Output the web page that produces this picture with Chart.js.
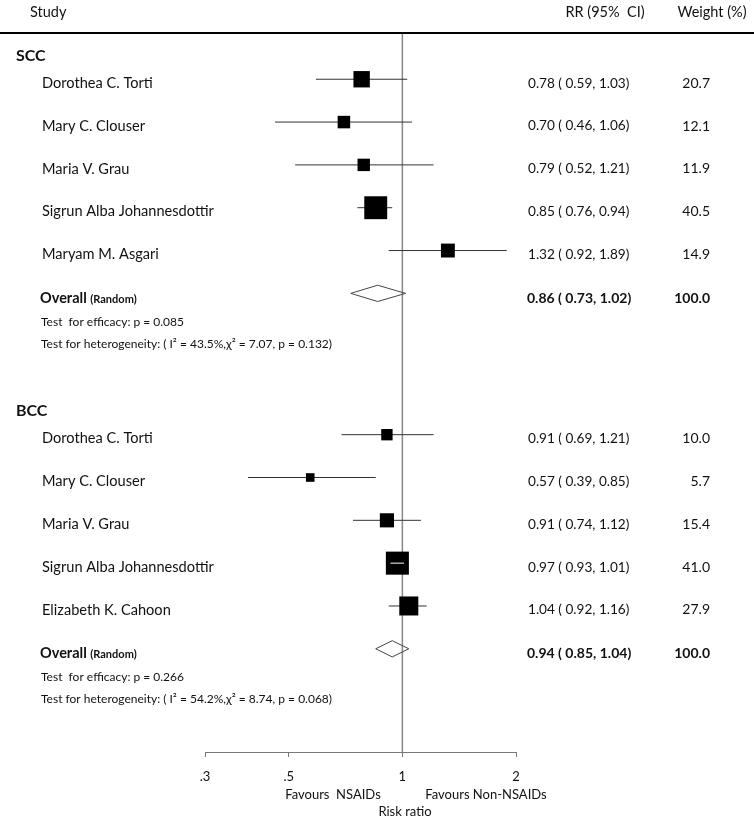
<!DOCTYPE html>
<html>
<head>
<meta charset="utf-8">
<title>Forest plot</title>
<script src="https://cdn.jsdelivr.net/npm/chart.js@4.4.1/dist/chart.umd.min.js"></script>
<style>
  html, body { margin: 0; padding: 0; background: #fff; }
  #wrap { width: 754px; height: 822px; position: relative; }
</style>
</head>
<body>
<div id="wrap"><canvas id="forest"></canvas></div>
<script>
// SCC studies
var sccStudies = ['Dorothea C. Torti', 'Mary C. Clouser', 'Maria V. Grau', 'Sigrun Alba Johannesdottir', 'Maryam M. Asgari'];
var sccRR = [0.78, 0.70, 0.79, 0.85, 1.32];
var sccLow = [0.59, 0.46, 0.52, 0.76, 0.92];
var sccHigh = [1.03, 1.06, 1.21, 0.94, 1.89];
var sccWeight = [20.7, 12.1, 11.9, 40.5, 14.9];
var sccOverall = [0.86, 0.73, 1.02]; // rr, low, high
var sccEfficacy = 'Test  for efficacy: p = 0.085';
var sccHetero = 'Test for heterogeneity: ( I\u00B2 = 43.5%,\u03C7\u00B2 = 7.07, p = 0.132)';

// BCC studies
var bccStudies = ['Dorothea C. Torti', 'Mary C. Clouser', 'Maria V. Grau', 'Sigrun Alba Johannesdottir', 'Elizabeth K. Cahoon'];
var bccRR = [0.91, 0.57, 0.91, 0.97, 1.04];
var bccLow = [0.69, 0.39, 0.74, 0.93, 0.92];
var bccHigh = [1.21, 0.85, 1.12, 1.01, 1.16];
var bccWeight = [10.0, 5.7, 15.4, 41.0, 27.9];
var bccOverall = [0.94, 0.85, 1.04];
var bccEfficacy = 'Test  for efficacy: p = 0.266';
var bccHetero = 'Test for heterogeneity: ( I\u00B2 = 54.2%,\u03C7\u00B2 = 8.74, p = 0.068)';

// x axis
var xTicks = [0.3, 0.5, 1, 2];
var xTickLabels = ['.3', '.5', '1', '2'];

var FONT = 'Lato, "Open Sans", sans-serif';
var INK = '#111';

// each group: studies on rows start..start+4, overall on start+5
var groups = [
  { name: 'SCC', start: 0, studies: sccStudies, rr: sccRR, lo: sccLow, hi: sccHigh, w: sccWeight, overall: sccOverall, eff: sccEfficacy, het: sccHetero },
  { name: 'BCC', start: 8.3, studies: bccStudies, rr: bccRR, lo: bccLow, hi: bccHigh, w: bccWeight, overall: bccOverall, eff: bccEfficacy, het: bccHetero }
];

function boxSide(w) {
  return 3.6 * Math.sqrt(w);
}

var datasets = [];
var boxPoints = [];
groups.forEach(function(g) {
  g.studies.forEach(function(s, i) {
    var row = g.start + i;
    datasets.push({
      data: [{ x: g.lo[i], y: row }, { x: g.hi[i], y: row }],
      showLine: true, borderColor: '#333', borderWidth: 1, pointRadius: 0, order: 3
    });
    boxPoints.push({ x: g.rr[i], y: row, w: g.w[i], lo: g.lo[i], hi: g.hi[i] });
  });
  var o = g.overall, r = g.start + 5, h = 0.19;
  datasets.push({
    data: [{ x: o[1], y: r }, { x: o[0], y: r - h }, { x: o[2], y: r }, { x: o[0], y: r + h }, { x: o[1], y: r }],
    showLine: true, borderColor: '#444', borderWidth: 1, pointRadius: 0, fill: false, order: 2
  });
});

datasets.push({
  data: boxPoints,
  pointStyle: 'rect',
  backgroundColor: '#000',
  borderWidth: 0,
  pointRadius: function(ctx) {
    var p = ctx.raw;
    return p ? boxSide(p.w) / (2 * Math.SQRT1_2) : 0;
  },
  order: 1
});

function drawText(ctx, txt, x, y, font, align) {
  ctx.font = font;
  ctx.textAlign = align || 'left';
  ctx.fillText(txt, x, y);
}

var forestDecor = {
  id: 'forestDecor',
  beforeDatasetsDraw: function(chart) {
    var ctx = chart.ctx, a = chart.chartArea, xs = chart.scales.x;
    ctx.save();
    // line of no effect
    var x1 = xs.getPixelForValue(1);
    ctx.strokeStyle = '#888';
    ctx.lineWidth = 1.5;
    ctx.beginPath();
    ctx.moveTo(x1, a.top);
    ctx.lineTo(x1, a.bottom);
    ctx.stroke();
    // header rule
    ctx.strokeStyle = '#000';
    ctx.lineWidth = 2;
    ctx.beginPath();
    ctx.moveTo(0, a.top);
    ctx.lineTo(chart.width, a.top);
    ctx.stroke();
    ctx.restore();
  },
  afterDatasetsDraw: function(chart) {
    // CI that fits inside its box is drawn in white over the box
    var ctx = chart.ctx, xs = chart.scales.x, ys = chart.scales.y;
    ctx.save();
    ctx.strokeStyle = '#fff';
    ctx.lineWidth = 1;
    boxPoints.forEach(function(p) {
      var cx = xs.getPixelForValue(p.x), half = boxSide(p.w) / 2;
      var l = xs.getPixelForValue(p.lo), r = xs.getPixelForValue(p.hi);
      if (l > cx - half && r < cx + half) {
        var y = ys.getPixelForValue(p.y);
        ctx.beginPath();
        ctx.moveTo(l, y);
        ctx.lineTo(r, y);
        ctx.stroke();
      }
    });
    ctx.restore();
  },
  afterDraw: function(chart) {
    var ctx = chart.ctx, xs = chart.scales.x, ys = chart.scales.y;
    ctx.save();
    ctx.fillStyle = INK;
    ctx.textBaseline = 'middle';

    // column headers
    drawText(ctx, 'Study', 30, 12, '14.5px ' + FONT);
    drawText(ctx, 'RR (95%  CI)', 605, 12, '14.5px ' + FONT, 'center');
    drawText(ctx, 'Weight (%)', 712, 12, '14.5px ' + FONT, 'center');

    groups.forEach(function(g) {
      drawText(ctx, g.name, 16, ys.getPixelForValue(g.start - 0.55), 'bold 16px ' + FONT);
      g.studies.forEach(function(s, i) {
        var y = ys.getPixelForValue(g.start + i) + 4;
        drawText(ctx, s, 42, y, '14.6px ' + FONT);
        drawText(ctx, g.rr[i].toFixed(2) + ' ( ' + g.lo[i].toFixed(2) + ', ' + g.hi[i].toFixed(2) + ')', 528, y, '13.6px ' + FONT);
        drawText(ctx, g.w[i].toFixed(1), 710, y, '14px ' + FONT, 'right');
      });
      var yo = ys.getPixelForValue(g.start + 5) + 5;
      drawText(ctx, 'Overall', 40, yo, 'bold 14.5px ' + FONT);
      var ow = ctx.measureText('Overall ').width;
      drawText(ctx, '(Random)', 40 + ow, yo + 1, 'bold 11px ' + FONT);
      var o = g.overall;
      drawText(ctx, o[0].toFixed(2) + ' ( ' + o[1].toFixed(2) + ', ' + o[2].toFixed(2) + ')', 527, yo, 'bold 14px ' + FONT);
      drawText(ctx, '100.0', 710, yo, 'bold 14px ' + FONT, 'right');
      drawText(ctx, g.eff, 41, ys.getPixelForValue(g.start + 5.66), '12px ' + FONT);
      drawText(ctx, g.het, 41, ys.getPixelForValue(g.start + 6.18), '12px ' + FONT);
    });

    // axis captions
    drawText(ctx, 'Favours  NSAIDs', 333, 795, '13px ' + FONT, 'center');
    drawText(ctx, 'Favours Non-NSAIDs', 486, 795, '13px ' + FONT, 'center');
    drawText(ctx, 'Risk ratio', 405, 812, '13px ' + FONT, 'center');
    ctx.restore();
  }
};

new Chart(document.getElementById('forest'), {
  type: 'scatter',
  data: { datasets: datasets },
  options: {
    responsive: true,
    maintainAspectRatio: false,
    animation: false,
    events: [],
    layout: { padding: { left: 205, right: 238, top: 33, bottom: 0 } },
    plugins: { legend: { display: false }, tooltip: { enabled: false } },
    scales: {
      x: {
        type: 'logarithmic',
        min: 0.3,
        max: 2,
        position: 'bottom',
        afterBuildTicks: function(scale) {
          scale.ticks = xTicks.map(function(v) { return { value: v }; });
        },
        afterFit: function(scale) { scale.height = 70; },
        ticks: {
          autoSkip: false,
          maxRotation: 0,
          padding: 12,
          color: INK,
          font: { family: FONT, size: 13 },
          callback: function(v) {
            for (var i = 0; i < xTicks.length; i++) {
              if (Math.abs(xTicks[i] - v) < 1e-9) return xTickLabels[i];
            }
            return '';
          }
        },
        grid: { drawOnChartArea: false, drawTicks: true, tickLength: 5, color: '#777' },
        border: { display: true, color: '#777', width: 1 }
      },
      y: {
        type: 'linear',
        min: -1.08,
        max: 15.71,
        reverse: true,
        display: false
      }
    }
  },
  plugins: [forestDecor]
});
</script>
</body>
</html>
